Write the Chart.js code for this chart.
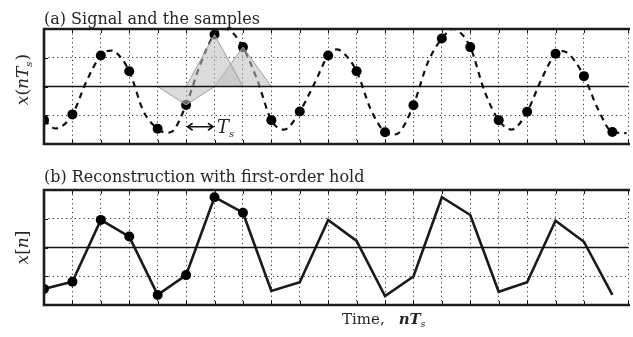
<!DOCTYPE html>
<html>
<head>
<meta charset="utf-8">
<script src="https://cdn.jsdelivr.net/npm/chart.js@4.4.0/dist/chart.umd.min.js"></script>
<style>
  html, body { margin: 0; padding: 0; background: #fff; }
  #wrap { position: relative; width: 633px; height: 337px; overflow: hidden; }
  canvas { position: absolute; left: 0; }
  #ca { top: 0; }
  #cb { top: 165px; }
</style>
</head>
<body>
<div id="wrap">
  <canvas id="ca" width="633" height="165"></canvas>
  <canvas id="cb" width="633" height="172"></canvas>
</div>
<script>
// ── DATA ──
const sampleN  = [0,1,2,3,4,5,6,7,8,9,10,11,12,13,14,15,16,17,18,19,20];
const samplesA = [-1.17,-0.97,1.08,0.53,-1.47,-0.64,1.81,1.37,-1.17,-0.87,1.08,0.53,-1.59,-0.65,1.67,1.37,-1.17,-0.88,1.14,0.36,-1.58];
const samplesB = [-1.44,-1.19,0.96,0.38,-1.65,-0.96,1.75,1.21,-1.51,-1.21,0.96,0.23,-1.69,-1.01,1.75,1.13,-1.54,-1.21,0.93,0.20,-1.65];
// continuous signal, read at half samples and at its turning points
const curveT = [0,0.4,1,1.5,2,2.35,2.5,3,3.5,4,4.3,4.5,5,5.5,6,6.4,6.5,7,7.5,8,8.45,9,9.5,10,10.3,10.5,11,11.5,12,12.3,12.5,13,13.5,14,14.4,14.5,15,15.5,16,16.45,17,17.5,18,18.25,18.5,19,19.5,20,20.5];
const curveV = [-1.17,-1.46,-0.97,0.19,1.08,1.25,1.21,0.53,-0.86,-1.47,-1.61,-1.57,-0.64,0.77,1.81,2.0,1.98,1.37,0.24,-1.17,-1.5,-0.87,0.07,1.08,1.29,1.2,0.53,-0.8,-1.59,-1.67,-1.6,-0.65,0.82,1.67,2.0,1.98,1.37,-0.16,-1.17,-1.5,-0.88,0.24,1.14,1.23,1.1,0.36,-0.8,-1.58,-1.62];
const holdCentres = [5, 6, 7];   // first-order-hold kernels drawn in (a)
const markedB = 8;                // first samples in (b) that carry a dot
const X_MIN = 0, X_MAX = 20.55;
const Y_MIN = -2, Y_MAX = 2;

const SERIF = '"DejaVu Serif", serif';
const INK = '#262626';

// ── HELPERS ──
function xy(xs, ys) { return xs.map((v, i) => ({ x: v, y: ys[i] })); }

function richWidth(ctx, parts) {
  return parts.reduce((w, p) => { ctx.font = p.f; return w + ctx.measureText(p.t).width + (p.gap || 0); }, 0);
}
function drawRich(ctx, parts, x, y) {
  parts.forEach(p => {
    ctx.font = p.f;
    ctx.fillText(p.t, x, y + (p.dy || 0));
    x += ctx.measureText(p.t).width + (p.gap || 0);
  });
}

// ── FRAME: borders, zero line, inner ticks ──
const framePlugin = {
  id: 'frame',
  afterDatasetsDraw(chart) {
    const { ctx, chartArea: a, scales: { x, y } } = chart;
    ctx.save();
    ctx.strokeStyle = '#111';
    ctx.lineWidth = 1.7;
    const y0 = y.getPixelForValue(0);
    ctx.beginPath(); ctx.moveTo(a.left, y0); ctx.lineTo(a.right, y0); ctx.stroke();

    ctx.lineWidth = 1;
    ctx.beginPath();
    x.ticks.forEach(t => {
      const px = Math.round(x.getPixelForValue(t.value)) + 0.5;
      ctx.moveTo(px, a.top); ctx.lineTo(px, a.top + 4);
      ctx.moveTo(px, a.bottom); ctx.lineTo(px, a.bottom - 4);
    });
    y.ticks.forEach(t => {
      const py = Math.round(y.getPixelForValue(t.value)) + 0.5;
      ctx.moveTo(a.left, py); ctx.lineTo(a.left + 4, py);
    });
    ctx.stroke();

    ctx.lineWidth = 2.6;
    ctx.strokeStyle = '#1c1c1c';
    ctx.beginPath();
    ctx.moveTo(a.right + 2, a.top); ctx.lineTo(a.left, a.top);
    ctx.lineTo(a.left, a.bottom); ctx.lineTo(a.right + 2, a.bottom);
    ctx.stroke();
    ctx.restore();
  }
};

// ── TEXT PLUGINS ──
const textA = {
  id: 'textA',
  afterDraw(chart) {
    const { ctx, scales: { x, y } } = chart;
    ctx.save();
    ctx.fillStyle = INK;
    ctx.textBaseline = 'alphabetic';
    ctx.font = '16px ' + SERIF;
    ctx.fillText('(a) Signal and the samples', 44, 23.5);

    // y label x(nT_s)
    const lab = [
      { t: 'x', f: 'italic 17px ' + SERIF },
      { t: '(', f: '17px ' + SERIF },
      { t: 'n', f: 'italic 17px ' + SERIF },
      { t: 'T', f: 'italic 17px ' + SERIF },
      { t: 's', f: 'italic 10px ' + SERIF, dy: 4, gap: 1 },
      { t: ')', f: '17px ' + SERIF }
    ];
    const w = richWidth(ctx, lab);
    ctx.save();
    ctx.translate(28, 79.5 + w / 2);
    ctx.rotate(-Math.PI / 2);
    drawRich(ctx, lab, 0, 0);
    ctx.restore();

    // T_s arrow between two samples
    const x1 = x.getPixelForValue(5) + 1.5, x2 = x.getPixelForValue(6) - 1.5;
    const ya = y.getPixelForValue(-1.4);
    ctx.strokeStyle = '#111';
    ctx.lineWidth = 1.6;
    ctx.beginPath();
    ctx.moveTo(x1, ya); ctx.lineTo(x2, ya);
    ctx.moveTo(x1 + 5, ya - 3.5); ctx.lineTo(x1, ya); ctx.lineTo(x1 + 5, ya + 3.5);
    ctx.moveTo(x2 - 5, ya - 3.5); ctx.lineTo(x2, ya); ctx.lineTo(x2 - 5, ya + 3.5);
    ctx.stroke();
    drawRich(ctx, [
      { t: 'T', f: 'italic 18px ' + SERIF },
      { t: 's', f: 'italic 10px ' + SERIF, dy: 4 }
    ], x2 + 4, ya + 6);
    ctx.restore();
  }
};

const textB = {
  id: 'textB',
  afterDraw(chart) {
    const { ctx, chartArea: a } = chart;
    ctx.save();
    ctx.fillStyle = INK;
    ctx.font = '16px ' + SERIF;
    ctx.fillText('(b) Reconstruction with first-order hold', 44, 16.7);

    const lab = [
      { t: 'x', f: 'italic 17px ' + SERIF },
      { t: '[', f: '17px ' + SERIF },
      { t: 'n', f: 'italic 17px ' + SERIF },
      { t: ']', f: '17px ' + SERIF }
    ];
    const w = richWidth(ctx, lab);
    ctx.save();
    ctx.translate(28, (a.top + a.bottom) / 2 + w / 2);
    ctx.rotate(-Math.PI / 2);
    drawRich(ctx, lab, 0, 0);
    ctx.restore();

    drawRich(ctx, [
      { t: 'Time,', f: '15px ' + SERIF, gap: 14 },
      { t: 'nT', f: 'bold italic 15px ' + SERIF },
      { t: 's', f: 'italic 9px ' + SERIF, dy: 3 }
    ], 342, 159.3);
    ctx.restore();
  }
};

// ── SHARED SCALES ──
function makeScales() {
  const dots = [1.2, 3.2];
  return {
    x: {
      type: 'linear', min: X_MIN, max: X_MAX,
      ticks: { display: false, stepSize: 1 },
      grid: { color: '#333', lineWidth: 1, drawTicks: false, borderDash: dots },
      border: { display: false, dash: dots },
      afterFit(s) { s.height = 0; }
    },
    y: {
      type: 'linear', min: Y_MIN, max: Y_MAX,
      ticks: { display: false, stepSize: 1 },
      grid: { color: '#333', lineWidth: 1, drawTicks: false, borderDash: dots },
      border: { display: false, dash: dots },
      afterFit(s) { s.width = 0; }
    }
  };
}

const common = {
  responsive: false,
  animation: false,
  events: [],
  plugins: { legend: { display: false }, tooltip: { enabled: false } }
};

// ── (a) SIGNAL AND SAMPLES ──
const kernelSets = holdCentres.map(c => ({
  data: [{ x: c - 1, y: 0 }, { x: c, y: samplesA[c] }, { x: c + 1, y: 0 }],
  borderColor: '#9e9e9e',
  borderWidth: 1,
  backgroundColor: 'rgba(190,190,190,0.55)',
  fill: 'origin',
  pointRadius: 0,
  tension: 0,
  order: 0
}));

new Chart(document.getElementById('ca'), {
  type: 'line',
  data: {
    datasets: [
      ...kernelSets,
      {
        data: xy(sampleN, samplesA),
        showLine: false,
        pointRadius: 5,
        pointBackgroundColor: '#000',
        pointBorderColor: '#000',
        pointBorderWidth: 0,
        order: 1
      },
      {
        data: xy(curveT, curveV),
        borderColor: '#111',
        borderWidth: 2.2,
        borderDash: [6, 5],
        pointRadius: 0,
        cubicInterpolationMode: 'monotone',
        fill: false,
        order: 2
      }
    ]
  },
  options: {
    ...common,
    layout: { padding: { left: 44, top: 29, right: 0, bottom: 21 } },
    scales: makeScales()
  },
  plugins: [framePlugin, textA]
});

// ── (b) FIRST-ORDER HOLD ──
new Chart(document.getElementById('cb'), {
  type: 'line',
  data: {
    datasets: [{
      data: xy(sampleN, samplesB),
      borderColor: '#1a1a1a',
      borderWidth: 2.6,
      tension: 0,
      pointRadius: ctx => ctx.dataIndex < markedB ? 5 : 0,
      pointBackgroundColor: '#000',
      pointBorderWidth: 0,
      fill: false
    }]
  },
  options: {
    ...common,
    layout: { padding: { left: 44, top: 25, right: 0, bottom: 32 } },
    scales: makeScales()
  },
  plugins: [framePlugin, textB]
});
</script>
</body>
</html>
